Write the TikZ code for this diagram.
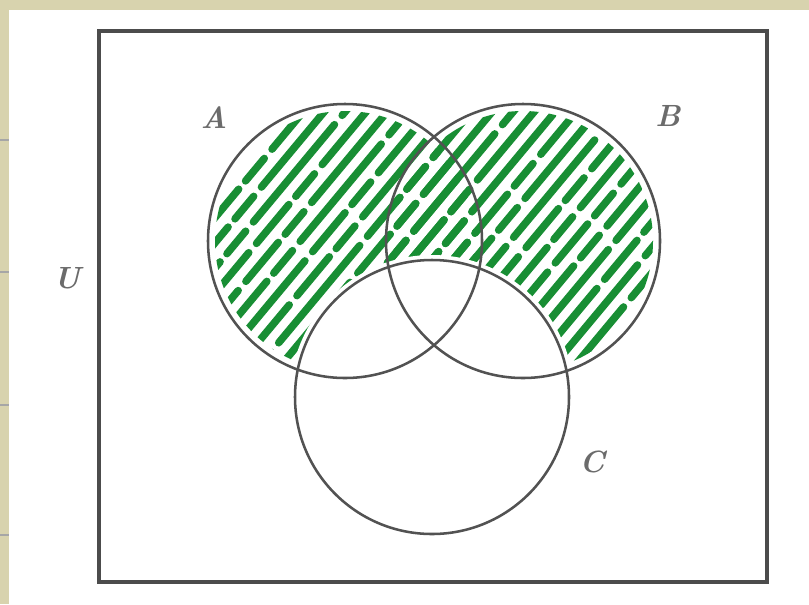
\documentclass[tikz,border=0pt]{standalone}
\begin{document}
\begin{tikzpicture}[x=0.75pt,y=-0.75pt,
  setline/.style={draw=black!68,line width=1.9pt},
  framebox/.style={draw=black!70,line width=3pt},
  setlabel/.style={text=black!58,font=\fontsize{23}{23}\selectfont\bfseries\itshape},
  hatch/.style={draw=hatchgreen,line width=5.6pt,line cap=round}]
\definecolor{hatchgreen}{RGB}{24,142,52}
\definecolor{pagebeige}{RGB}{216,211,174}
\useasboundingbox (0,0) rectangle (809,604);
% page background
\fill[white] (0,0) rectangle (809,604);
\fill[pagebeige] (0,0) rectangle (809,10);
\fill[pagebeige] (0,0) rectangle (9,604);
\foreach \ty in {140,272,405,535} \draw[black!35,line width=0.8pt] (0,\ty) -- (9,\ty);
% centres
\coordinate (cA) at (345,241);
\coordinate (cB) at (523,241);
\coordinate (cC) at (432,397);
% hatching of (A u B) minus C
\foreach \clipc in {cA,cB}{
\begin{scope}
  \clip (\clipc) circle (130);
  \foreach \k/\ph in {195/0,216/37,237/71,258/15,279/52,300/90,321/23,342/66,363/8,384/44,405/80,426/30,447/61,468/5,489/48,510/86,531/19,552/57,573/34,594/75,615/12,636/50,657/27,678/68}{
    \draw[hatch,dash pattern=on 95pt off 9pt on 38pt off 8pt on 22pt off 9pt,dash phase=\ph pt] (\k-232,520) -- (\k+143,70);
  }
\end{scope}}
\fill[white] (cC) circle (142);
% circles
\draw[setline] (cA) circle (137);
\draw[setline] (cB) circle (137);
\draw[setline] (cC) circle (137);
% universe
\draw[framebox] (99,31) rectangle (767,582);
% labels
\node[setlabel] (lA) at (214,118) {A};
\node[setlabel] (lB) at (668,116) {B};
\node[setlabel] (lC) at (592,462) {C};
\node[setlabel] (lU) at (67,278) {U};
\end{tikzpicture}
\end{document}
